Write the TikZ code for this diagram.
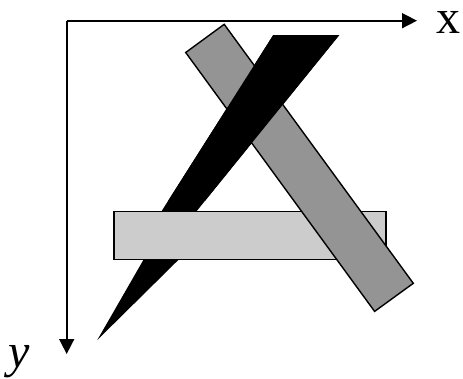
\documentclass[tikz,border=0pt]{standalone}
\usepackage{fontspec}
\setmainfont{Liberation Serif}
\definecolor{bargray}{RGB}{148,148,148}
\definecolor{lightgray}{RGB}{204,204,204}
\usetikzlibrary{arrows.meta}

\begin{document}
\begin{tikzpicture}[x=1pt,y=-1pt,
  axisline/.style={line width=1.6pt,-{Triangle[length=15pt,width=15pt]}},
  grayrod/.style={draw,line width=1.4pt,fill=bargray,line join=miter},
  lightslab/.style={draw,line width=1.4pt,fill=lightgray},
  blackwedge/.style={fill=black},
  axislabel/.style={font=\fontsize{48}{58}\selectfont,inner sep=0pt,anchor=base}
]
  \useasboundingbox (0,0) rectangle (463,378);

  % Axes
  \coordinate (O) at (66.7,20.7);
  \coordinate (xend) at (417,20.7);
  \coordinate (yend) at (66.7,354);
  \draw[axisline] (O) -- (xend);
  \draw[axisline] (O) -- (yend);
  \node[axislabel] (xlab) at (448,33.3) {x};
  \node[axislabel] (ylab) at (19,367) {\itshape y};

  % Black wedge (lower part, goes under the slab)
  \def\wedge{(273.3,35) -- (339.3,35) -- (185.4,225) -- (188.4,250)
    -- (97.3,340) -- (149.1,250) -- (152.8,225) -- cycle}
  \fill[blackwedge] \wedge;

  % Light slab
  \draw[lightslab] (114,211.7) rectangle (386,259.7);

  % Gray rod
  \draw[grayrod] (185.7,52.5) -- (224.2,24.3) -- (413.3,283.3) -- (374.6,311.4) -- cycle;

  % Black wedge again on top of the rod
  \begin{scope}
    \clip (0,0) rectangle (463,200);
    \fill[blackwedge] \wedge;
  \end{scope}
\end{tikzpicture}
\end{document}
